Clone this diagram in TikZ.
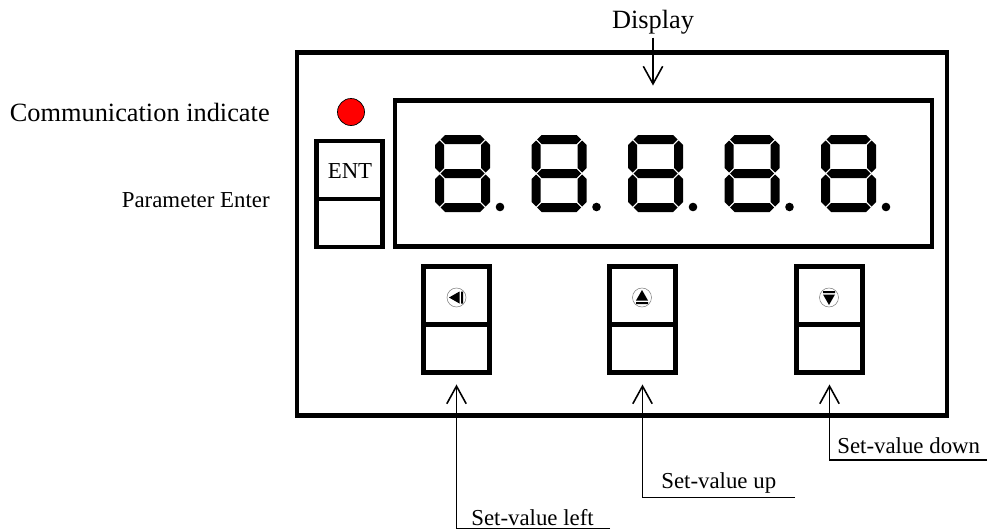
\documentclass[tikz,border=0pt]{standalone}
\usepackage{fontspec}
\setmainfont{Liberation Serif}
\usepackage{tikz}
\usetikzlibrary{positioning, arrows.meta}

% one segment of the display: horizontal (x-from, x-to, y) and vertical (x, y-from, y-to)
\newcommand{\hseg}[3]{\fill (#1,#3) -- (#1+4.5,#3-4.5) -- (#2-4.5,#3-4.5) -- (#2,#3) -- (#2-4.5,#3+4.5) -- (#1+4.5,#3+4.5) -- cycle;}
\newcommand{\vseg}[3]{\fill (#1,#2) -- (#1+4.5,#2+4.5) -- (#1+4.5,#3-4.5) -- (#1,#3) -- (#1-4.5,#3-4.5) -- (#1-4.5,#2+4.5) -- cycle;}
% a full "8." digit, #1 = left edge
\newcommand{\segdigit}[1]{%
  \begin{scope}[shift={(#1,135)}]
    \hseg{5.5}{49.5}{4.5} \hseg{5.5}{49.5}{38.5} \hseg{5.5}{49.5}{72.5}
    \vseg{4.5}{5.5}{37.5} \vseg{4.5}{39.5}{71.5}
    \vseg{50.5}{5.5}{37.5} \vseg{50.5}{39.5}{71.5}
    \fill (65,72) circle (4.3);
  \end{scope}}

\begin{document}
\begin{tikzpicture}[x=0.02cm, y=-0.02cm,
    frame/.style={draw, line width=2.6pt, inner sep=0pt, outer sep=0pt},
    keybox/.style={frame, minimum width=1.32cm, minimum height=2.12cm},
    keyicon/.style={draw=gray, line width=0.3pt, circle, inner sep=0pt, minimum size=0.38cm},
    pointer/.style={line width=0.9pt, -{Straight Barb[length=10pt,width=11pt]}},
    big/.style={font=\fontsize{15}{18}\selectfont, inner sep=0pt},
    small/.style={font=\fontsize{13}{15}\selectfont, inner sep=0pt}]

    \useasboundingbox (0,0) rectangle (988,531);

    % 1. Panel, display window and the lamp
    \node[frame, minimum width=13cm, minimum height=7.26cm] (panel) at (622,234) {};
    \node[frame, line width=2.3pt, minimum width=10.76cm, minimum height=2.92cm] (disp) at (663.5,173.5) {};
    \node[circle, fill=red, draw, line width=0.4pt, minimum size=0.54cm, inner sep=0pt] (led) at (351,112) {};

    % 2. Five "8." digits
    \foreach \dx in {435, 531.5, 628, 724.5, 821}
        {\segdigit{\dx}}

    % 3. Keys (box with a divider a bit below the middle)
    \foreach \name/\cx/\cy in {ent/349.5/194, kleft/456.5/319.5, kup/642.5/319.5, kdown/829.5/319.5} {
        \node[keybox] (\name) at (\cx,\cy) {};
        \draw[line width=2.6pt] ([yshift=-0.1cm]\name.west) -- ([yshift=-0.1cm]\name.east);
    }
    \node[small, anchor=base] (entlbl) at (350,178) {ENT};

    % 4. Key symbols
    \node[keyicon] (ileft) at (456.5,297.5) {};
    \node[keyicon] (iup) at (642,297.5) {};
    \node[keyicon] (idown) at (829,297.5) {};
    \fill[shift={(ileft.center)}] (-7.5,0) -- (3,-6) -- (3,6) -- cycle (4.5,-6) rectangle (6.5,6);
    \fill[shift={(iup.center)}] (0,-7.5) -- (6,3) -- (-6,3) -- cycle (-6,4.5) rectangle (6,6.5);
    \fill[shift={(idown.center)}] (0,7.5) -- (6,-3) -- (-6,-3) -- cycle (-6,-6.5) rectangle (6,-4.5);

    % 5. Labels on the left and on top
    \node[big, anchor=base east] (tcomm) at (270,121) {Communication indicate};
    \node[small, anchor=base east] (tparam) at (270,207) {Parameter Enter};
    \node[big, anchor=base] (tdisp) at (653,28) {Display};
    \draw[pointer] ([yshift=-2pt]tdisp.south) -- ([yshift=0.3cm]tdisp.south |- disp.north);

    % 6. Labels below, with their leader lines
    \node[small, anchor=base west] (tleft) at (471,525) {Set-value left};
    \node[small, anchor=base west] (tup) at (661,488) {Set-value up};
    \node[small, anchor=base west] (tdown) at (837,453) {Set-value down};
    \coordinate (eleft) at (610,528.5);
    \coordinate (eup) at (795,497.5);
    \coordinate (edown) at (987,460);
    \draw[pointer] (eleft) -- (eleft -| kleft) -- ([yshift=-0.24cm]kleft.south);
    \draw[pointer] (eup) -- (eup -| kup) -- ([yshift=-0.24cm]kup.south);
    \draw[pointer] (edown) -- (edown -| kdown) -- ([yshift=-0.24cm]kdown.south);
\end{tikzpicture}
\end{document}
